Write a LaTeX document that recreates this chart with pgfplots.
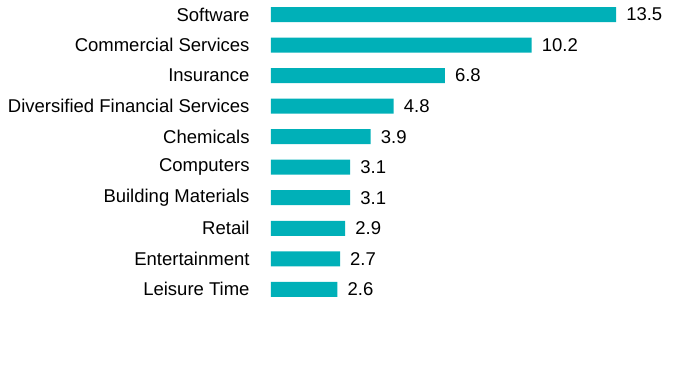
\documentclass[border=0pt]{standalone}
\usepackage{fontspec}
\setmainfont{Liberation Sans}
\usepackage{pgfplots}
\pgfplotsset{compat=1.18}
\definecolor{barteal}{HTML}{00B0B8}
\begin{document}
\begin{tikzpicture}[x=1pt,y=1pt]
\useasboundingbox (0,0) rectangle (696,384);
\begin{axis}[
  at={(271pt,79.4pt)}, anchor=south west,
  scale only axis, width=383.4pt, height=305.3pt,
  xmin=0, xmax=15, ymin=-0.5, ymax=9.5,
  xbar, bar width=15pt,
  axis line style={draw=none},
  tick style={draw=none},
  xtick=\empty,
  ytick={0,...,9},
  yticklabels={Leisure Time,Entertainment,Retail,Building Materials,Computers,Chemicals,Diversified Financial Services,Insurance,Commercial Services,Software},
  yticklabel style={font=\fontsize{18.5}{21}\selectfont, inner sep=0pt, anchor=east, xshift=-17pt},
  nodes near coords,
  nodes near coords style={font=\fontsize{18.5}{21}\selectfont, inner sep=0pt, anchor=west, xshift=10pt, /pgf/number format/.cd, fixed, fixed zerofill, precision=1, assume math mode=true},
  /pgf/number format/assume math mode=true,
  clip=false,
]
\addplot[fill=barteal, draw=none] coordinates {
(2.6,0) (2.7,1) (2.9,2) (3.1,3) (3.1,4) (3.9,5) (4.8,6) (6.8,7) (10.2,8) (13.5,9)
};
\end{axis}
\end{tikzpicture}
\end{document}
